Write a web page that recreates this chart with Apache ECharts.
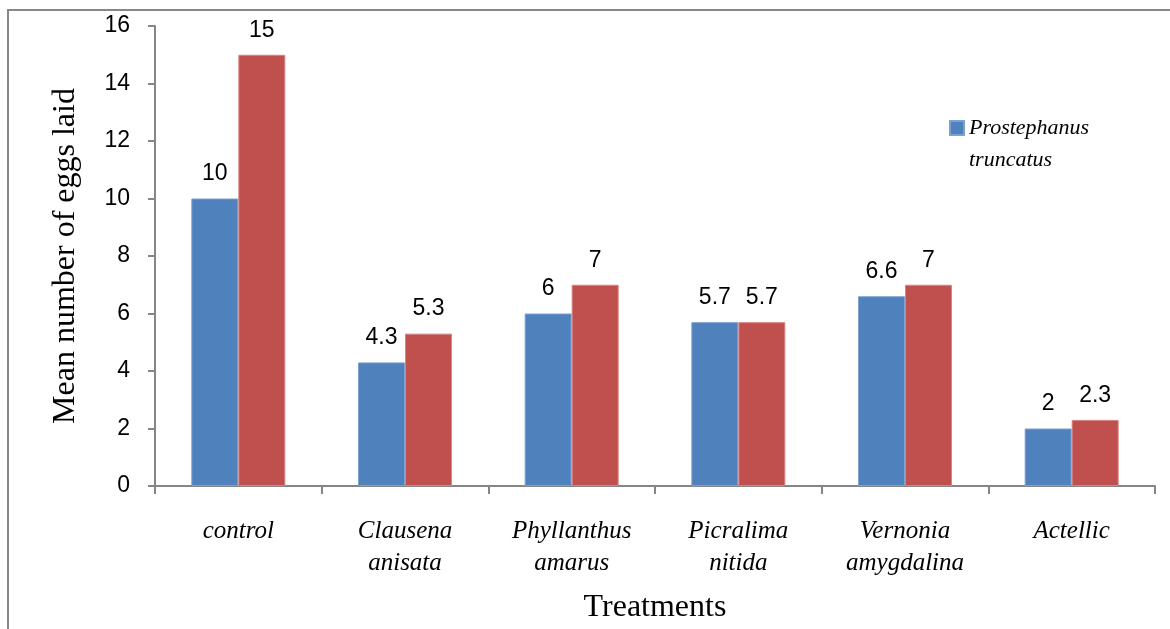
<!DOCTYPE html>
<html>
<head>
<meta charset="utf-8">
<script src="https://cdn.jsdelivr.net/npm/echarts@6/dist/echarts.min.js"></script>
<style>html,body{margin:0;padding:0;background:#fff}#c{width:1170px;height:629px}</style>
</head>
<body>
<div id="c"></div>
<script>
const categories = ['control', 'Clausena\nanisata', 'Phyllanthus\namarus', 'Picralima\nnitida', 'Vernonia\namygdalina', 'Actellic'];
const blueName = 'Prostephanus truncatus';
const blueValues = [10, 4.3, 6, 5.7, 6.6, 2];
const redName = 'Series 2';
const redValues = [15, 5.3, 7, 5.7, 7, 2.3];
const yTicks = { min: 0, max: 16, interval: 2 };

const chart = echarts.init(document.getElementById('c'));
const labelStyle = {
  show: true, position: 'top', distance: 13,
  fontFamily: 'Liberation Sans', fontSize: 23, color: '#000'
};
chart.setOption({
  animation: false,
  backgroundColor: '#fff',
  graphic: [{
    type: 'rect', shape: { x: 8, y: 10, width: 1300, height: 800 },
    style: { fill: 'none', stroke: '#878787', lineWidth: 2 }, silent: true
  }],
  grid: { left: 155, right: 15, top: 26, bottom: 140 },
  legend: {
    data: [blueName], left: 949, top: 85, padding: 0,
    icon: 'rect', itemWidth: 14, itemHeight: 14, itemGap: 6,
    formatter: n => '{e| }\n{a|' + n.replace(' ', '}\n{a|') + '}',
    textStyle: {
      fontFamily: 'Liberation Serif', fontStyle: 'italic', fontSize: 22, color: '#000',
      rich: {
        e: { lineHeight: 32, fontSize: 22 },
        a: { lineHeight: 32, fontSize: 22, fontFamily: 'Liberation Serif', fontStyle: 'italic', color: '#000' }
      }
    }
  },
  xAxis: {
    type: 'category', data: categories,
    name: 'Treatments', nameLocation: 'middle', nameGap: 106,
    nameTextStyle: { fontFamily: 'Liberation Serif', fontSize: 32, color: '#000' },
    axisLine: { lineStyle: { color: '#868686', width: 2 } },
    axisTick: { show: true, length: 8, lineStyle: { color: '#868686', width: 2 } },
    axisLabel: { margin: 29, fontFamily: 'Liberation Serif', fontStyle: 'italic', fontSize: 25, color: '#000', lineHeight: 32 }
  },
  yAxis: {
    type: 'value', min: yTicks.min, max: yTicks.max, interval: yTicks.interval,
    name: 'Mean number of eggs laid', nameLocation: 'middle', nameGap: 73,
    nameTextStyle: { fontFamily: 'Liberation Serif', fontSize: 32, color: '#000' },
    axisLine: { show: true, lineStyle: { color: '#868686', width: 2 } },
    axisTick: { show: true, length: 7, lineStyle: { color: '#868686', width: 2 } },
    splitLine: { show: false },
    axisLabel: { margin: 25, fontFamily: 'Liberation Sans', fontSize: 23, color: '#000' }
  },
  series: [
    { name: blueName, type: 'bar', data: blueValues, barGap: '0%', barCategoryGap: '43.6%',
      itemStyle: { color: '#4F81BD', borderColor: '#7EA1CE', borderWidth: 1 }, label: labelStyle },
    { name: redName, type: 'bar', data: redValues,
      itemStyle: { color: '#C0504D', borderColor: '#D58583', borderWidth: 1 }, label: labelStyle }
  ]
});
</script>
</body>
</html>
